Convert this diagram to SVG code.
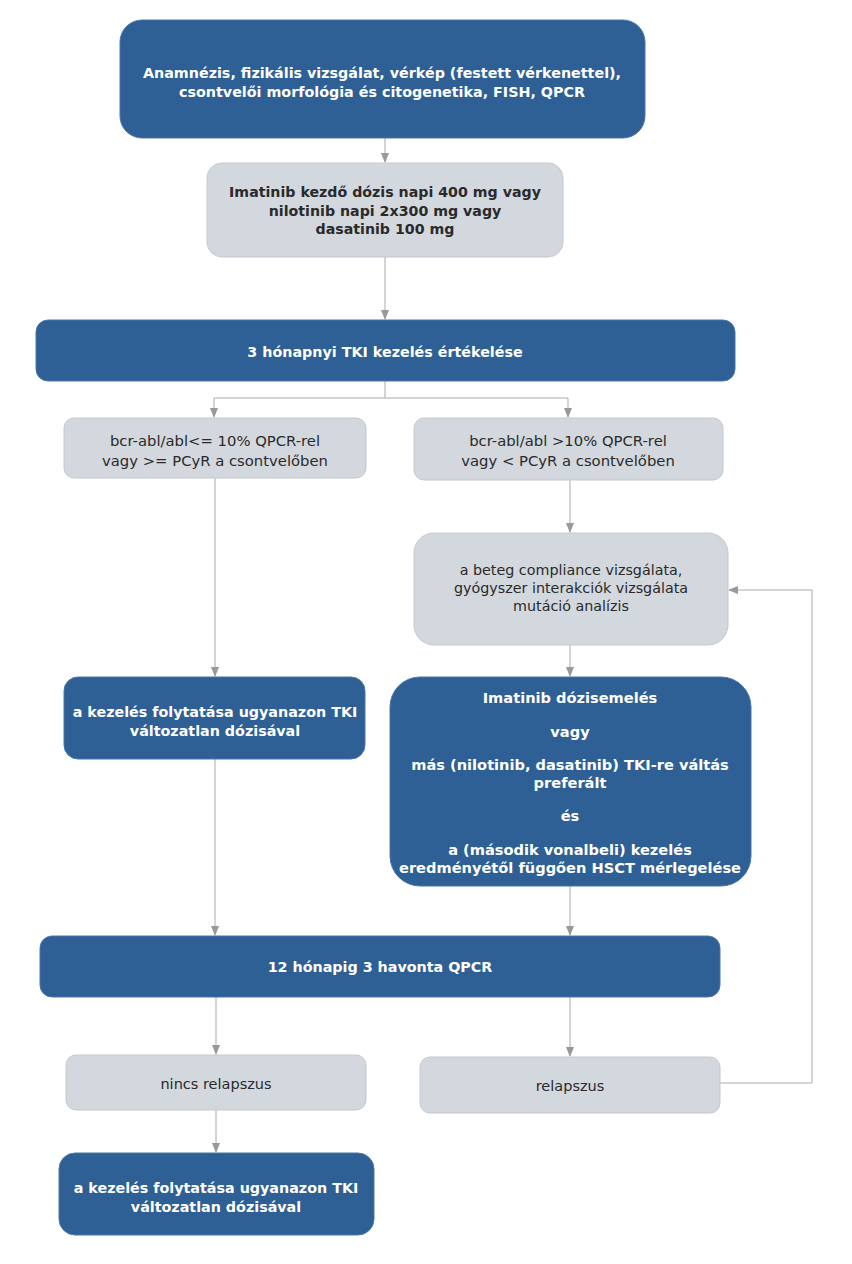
<svg xmlns="http://www.w3.org/2000/svg" width="852" height="1264" viewBox="0 0 852 1264">
<defs>
<marker id="ah" markerWidth="10" markerHeight="10" refX="9" refY="5" orient="auto" markerUnits="userSpaceOnUse"><path d="M0,1 L10,5 L0,9 Z" fill="#999"/></marker>
<style>
.dark{fill:#2e5f95;stroke:#4a77aa;stroke-width:1}
.gray{fill:#d3d8de;stroke:#c4c9cf;stroke-width:1}
.tb{font-family:"DejaVu Sans",Verdana,sans-serif;font-weight:bold;fill:#fff;text-anchor:middle;font-size:14.3px}
.tg{font-family:"DejaVu Sans",Verdana,sans-serif;font-weight:bold;fill:#2a2a2a;text-anchor:middle;font-size:14.2px}
.tn{font-family:"DejaVu Sans",Verdana,sans-serif;fill:#2a2a2a;text-anchor:middle;font-size:14.5px}
.c{fill:none;stroke:#aaa;stroke-width:1}
</style>
</defs>
<rect width="852" height="1264" fill="#fff"/>
<g id="connectors">
<path class="c" d="M385,138 V162" marker-end="url(#ah)"/>
<path class="c" d="M385,257 V319" marker-end="url(#ah)"/>
<path class="c" d="M385,381 V398"/>
<path class="c" d="M214,398 H568"/>
<path class="c" d="M214,398 V417" marker-end="url(#ah)"/>
<path class="c" d="M568,398 V417" marker-end="url(#ah)"/>
<path class="c" d="M570,480 V532" marker-end="url(#ah)"/>
<path class="c" d="M570,645 V676" marker-end="url(#ah)"/>
<path class="c" d="M215,478 V676" marker-end="url(#ah)"/>
<path class="c" d="M215,759 V935" marker-end="url(#ah)"/>
<path class="c" d="M570,886 V935" marker-end="url(#ah)"/>
<path class="c" d="M216,997 V1054" marker-end="url(#ah)"/>
<path class="c" d="M570,997 V1056" marker-end="url(#ah)"/>
<path class="c" d="M216,1110 V1152" marker-end="url(#ah)"/>
<path class="c" d="M720,1083 H812 V590 H729" marker-end="url(#ah)"/>
</g>
<g id="n1"><rect class="dark" x="120" y="20" width="525" height="118" rx="22"/>
<text class="tb"><tspan x="382" y="78">Anamnézis, fizikális vizsgálat, vérkép (festett vérkenettel),</tspan><tspan x="382" y="97">csontvelői morfológia és citogenetika, FISH, QPCR</tspan></text></g>
<g id="n2"><rect class="gray" x="207" y="163" width="356" height="94" rx="15"/>
<text class="tg"><tspan x="385" y="197">Imatinib kezdő dózis napi 400 mg vagy</tspan><tspan x="385" y="216">nilotinib napi 2x300 mg vagy</tspan><tspan x="385" y="234">dasatinib 100 mg</tspan></text></g>
<g id="n3"><rect class="dark" x="36" y="320" width="699" height="61" rx="12"/>
<text class="tb" x="385" y="357">3 hónapnyi TKI kezelés értékelése</text></g>
<g id="n4"><rect class="gray" x="64" y="418" width="302" height="60" rx="10"/>
<text class="tn" style="font-size:14.8px"><tspan x="215" y="446">bcr-abl/abl&lt;= 10% QPCR-rel</tspan><tspan x="215" y="466">vagy &gt;= PCyR a csontvelőben</tspan></text></g>
<g id="n5"><rect class="gray" x="414" y="418" width="309" height="62" rx="10"/>
<text class="tn" style="font-size:14.8px"><tspan x="568" y="446">bcr-abl/abl &gt;10% QPCR-rel</tspan><tspan x="568" y="466">vagy &lt; PCyR a csontvelőben</tspan></text></g>
<g id="n6"><rect class="gray" x="414" y="533" width="314" height="112" rx="20"/>
<text class="tn" style="font-size:14.3px"><tspan x="571" y="575">a beteg compliance vizsgálata,</tspan><tspan x="571" y="593">gyógyszer interakciók vizsgálata</tspan><tspan x="571" y="611">mutáció analízis</tspan></text></g>
<g id="n7"><rect class="dark" x="390" y="677" width="361" height="209" rx="30"/>
<text class="tb" style="font-size:14.6px"><tspan x="570" y="703">Imatinib dózisemelés</tspan><tspan x="570" y="737">vagy</tspan><tspan x="570" y="770">más (nilotinib, dasatinib) TKI-re váltás</tspan><tspan x="570" y="788">preferált</tspan><tspan x="570" y="821">és</tspan><tspan x="570" y="855">a (második vonalbeli) kezelés</tspan><tspan x="570" y="873">eredményétől függően HSCT mérlegelése</tspan></text></g>
<g id="n8"><rect class="dark" x="64" y="677" width="301" height="82" rx="14"/>
<text class="tb"><tspan x="215" y="717">a kezelés folytatása ugyanazon TKI</tspan><tspan x="215" y="736">változatlan dózisával</tspan></text></g>
<g id="n9"><rect class="dark" x="40" y="936" width="680" height="61" rx="12"/>
<text class="tb" x="380" y="972">12 hónapig 3 havonta QPCR</text></g>
<g id="n10"><rect class="gray" x="66" y="1055" width="300" height="55" rx="10"/>
<text class="tn" x="216" y="1089">nincs relapszus</text></g>
<g id="n11"><rect class="gray" x="420" y="1057" width="300" height="56" rx="10"/>
<text class="tn" x="570" y="1091">relapszus</text></g>
<g id="n12"><rect class="dark" x="59" y="1153" width="315" height="82" rx="16"/>
<text class="tb"><tspan x="216" y="1193">a kezelés folytatása ugyanazon TKI</tspan><tspan x="216" y="1212">változatlan dózisával</tspan></text></g>
</svg>
